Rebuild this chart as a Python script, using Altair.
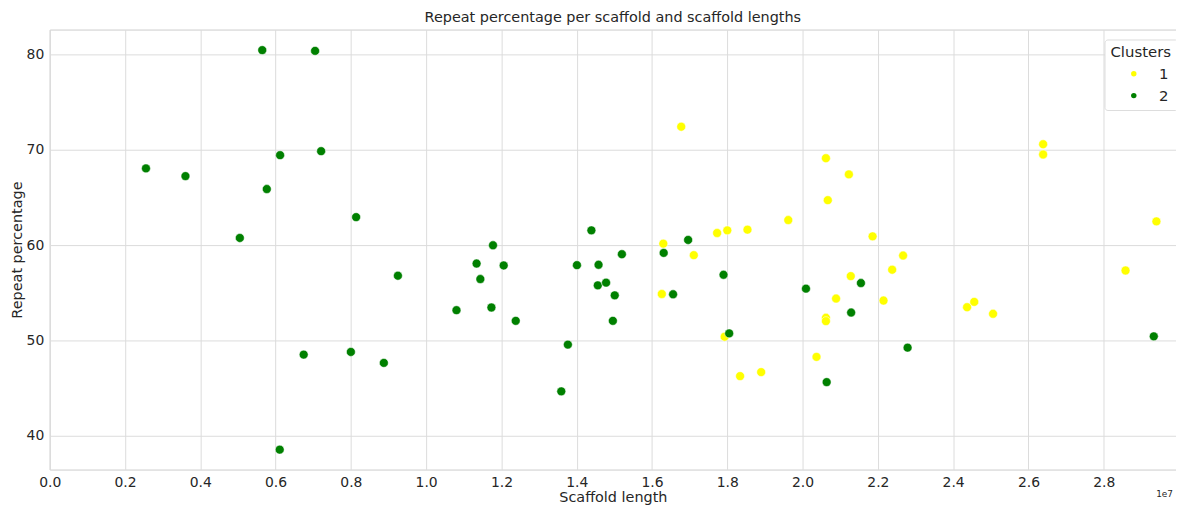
import altair as alt
import pandas as pd

# Cluster 1 (yellow)
c1_length = [16776000, 26390000, 26390000, 20620000, 21230000, 20670000, 19620000,
             18536000, 18000000, 17730000, 21860000, 29400000, 16300000, 17110000,
             22670000, 22380000, 21280000, 28580000, 16260000, 20890000, 22150000,
             24560000, 24370000, 25060000, 20620000, 20620000, 17930000, 20370000,
             18900000, 18340000]
c1_repeat = [72.45, 70.61, 69.53, 69.14, 67.44, 64.73, 62.64,
             61.63, 61.56, 61.28, 60.93, 62.50, 60.16, 58.95,
             58.91, 57.42, 56.75, 57.34, 54.87, 54.39, 54.18,
             54.04, 53.48, 52.79, 52.37, 52.02, 50.38, 48.26,
             46.66, 46.24]

# Cluster 2 (green)
c2_length = [2557000, 3606000, 5050000, 5646000, 5767000, 6120000, 7050000,
             7210000, 8140000, 9250000, 11340000, 12060000, 11440000, 11776000,
             14390000, 14006000, 10806000, 11734000, 12380000, 13765000, 13590000,
             6747000, 8000000, 8876000, 6110000, 14580000, 14560000, 14780000,
             15010000, 14960000, 15200000, 16310000, 16560000, 17900000, 18050000,
             16960000, 20090000, 21550000, 21290000, 20640000, 22790000, 29330000]
c2_repeat = [68.07, 67.26, 60.76, 80.50, 65.90, 69.46, 80.42,
             69.88, 62.95, 56.79, 58.07, 57.87, 56.44, 59.99,
             61.56, 57.90, 53.17, 53.45, 52.05, 49.55, 44.64,
             48.50, 48.78, 47.63, 38.51, 57.94, 55.78, 56.06,
             54.73, 52.05, 59.05, 59.19, 54.84, 56.89, 50.73,
             60.55, 55.43, 56.02, 52.92, 45.61, 49.23, 50.42]

x_ticks = [0, 2e6, 4e6, 6e6, 8e6, 1e7, 1.2e7, 1.4e7, 1.6e7, 1.8e7, 2e7,
           2.2e7, 2.4e7, 2.6e7, 2.8e7]
y_ticks = [40, 50, 60, 70, 80]

df = pd.DataFrame({
    "length": c1_length + c2_length,
    "repeat": c1_repeat + c2_repeat,
    "cluster": ["1"] * len(c1_length) + ["2"] * len(c2_length),
})

FONT = "DejaVu Sans"
TXT = "#262626"

points = alt.Chart(df).mark_circle(size=80, opacity=1, stroke="white", strokeWidth=0.5).encode(
    x=alt.X("length:Q",
            scale=alt.Scale(domain=[0, 29920000], nice=False, zero=False),
            axis=alt.Axis(values=x_ticks, labelExpr="format(datum.value / 1e7, '.1f')",
                          labelFlush=False, title="Scaffold length", titlePadding=1)),
    y=alt.Y("repeat:Q",
            scale=alt.Scale(domain=[36.42, 82.66], nice=False, zero=False),
            axis=alt.Axis(values=y_ticks, labelFlush=False, title="Repeat percentage",
                          titlePadding=2)),
    color=alt.Color("cluster:N",
                    scale=alt.Scale(domain=["1", "2"], range=["#ffff00", "#008000"]),
                    legend=alt.Legend(title="Clusters", orient="none", legendX=1062, legendY=10,
                                      symbolOffset=16, labelOffset=18, symbolSize=30,
                                      symbolStrokeWidth=0, rowPadding=6,
                                      padding=6, fillColor="white", strokeColor="#dddddd",
                                      cornerRadius=3, titleFontSize=15, labelFontSize=15,
                                      titleFontWeight="normal", titleFont=FONT, labelFont=FONT,
                                      titleColor=TXT, labelColor=TXT, titlePadding=6)),
    order=alt.Order("cluster:N"),
)

offset_txt = alt.Chart(pd.DataFrame({"t": ["1e7"]})).mark_text(
    align="left", baseline="middle", fontSize=9, font=FONT, color=TXT
).encode(text="t:N", x=alt.value(1114), y=alt.value(468))

chart = alt.layer(points, offset_txt).properties(
    width=1134, height=443,
    autosize=alt.AutoSizeParams(type="none"),
    padding={"left": 42, "top": 20, "right": 0, "bottom": 37},
    title=alt.Title("Repeat percentage per scaffold and scaffold lengths",
                    fontSize=14.5, font=FONT, color=TXT, fontWeight="normal", offset=4),
).configure_view(
    stroke="#cccccc", strokeWidth=1
).configure_axis(
    grid=True, gridColor="#dcdcdc", gridWidth=1, domain=False, ticks=False,
    labelFont=FONT, labelFontSize=14, labelColor=TXT, labelPadding=6,
    titleFont=FONT, titleFontSize=14.5, titleColor=TXT, titleFontWeight="normal",
)

chart.save("out.html", embed_options={"renderer": "svg", "actions": False})
